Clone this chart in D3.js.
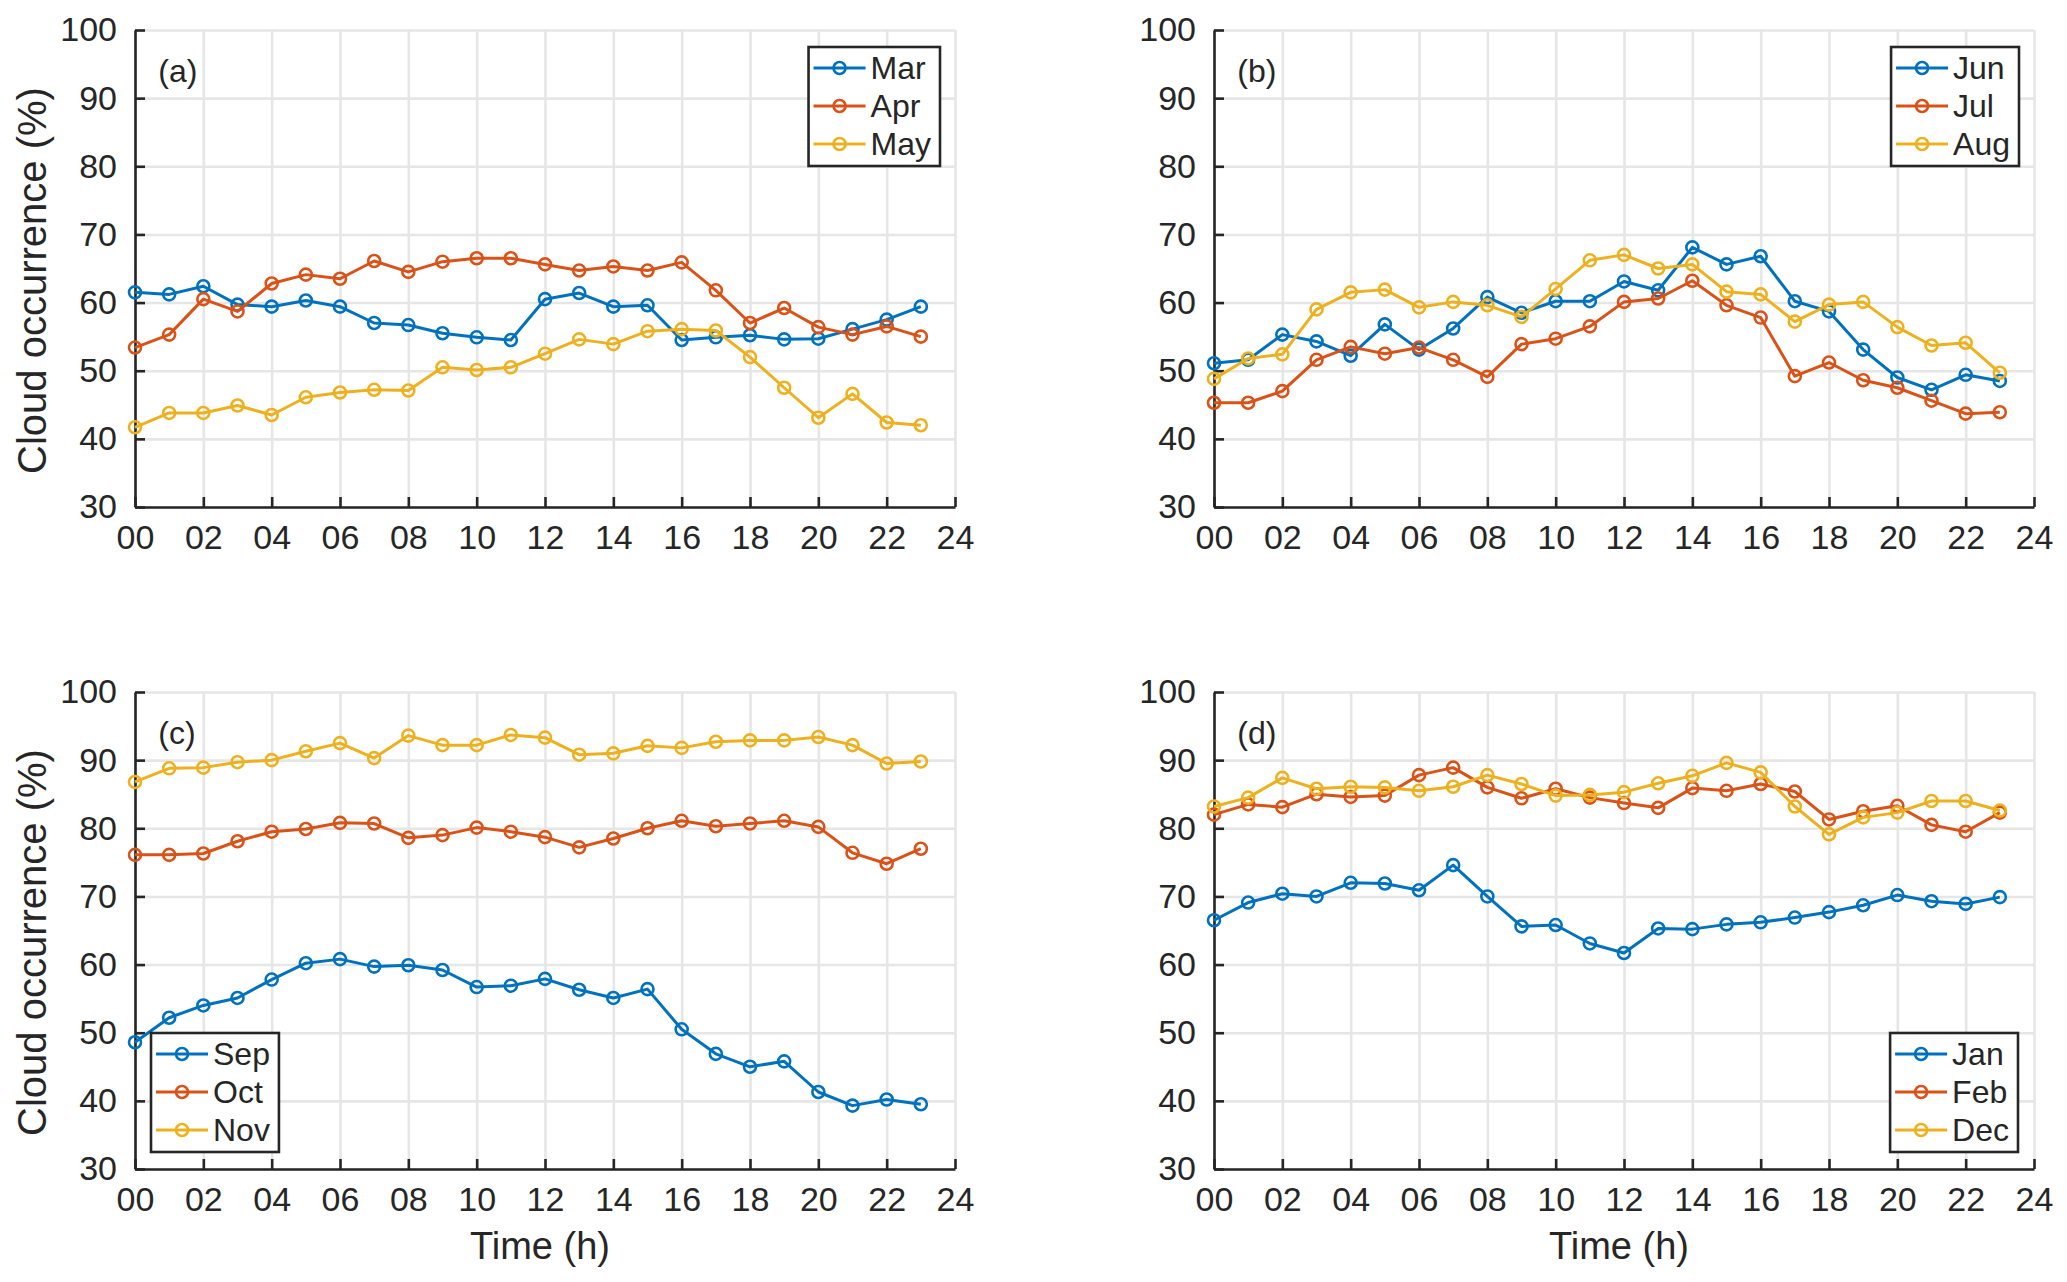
<!DOCTYPE html>
<html>
<head>
<meta charset="utf-8">
<script src="https://cdn.jsdelivr.net/npm/d3@7"></script>
<style>
  body { margin: 0; background: #fff; }
  svg { display: block; }
  text { font-family: "Liberation Sans", Arial, Helvetica, sans-serif; fill: #262626; }
</style>
</head>
<body>
<div id="chart"></div>
<script>
// hours of day (local time)
var hours = [0, 1, 2, 3, 4, 5, 6, 7, 8, 9, 10, 11, 12, 13, 14, 15, 16, 17, 18, 19, 20, 21, 22, 23];
var xTicks = [0, 2, 4, 6, 8, 10, 12, 14, 16, 18, 20, 22, 24];
var yTicks = [30, 40, 50, 60, 70, 80, 90, 100];

// cloud occurrence (%) per hour
var mar = [61.5, 61.2, 62.4, 59.7, 59.4, 60.3, 59.4, 57.0, 56.7, 55.5, 54.9, 54.5, 60.5, 61.4, 59.4, 59.6, 54.5, 54.9, 55.2, 54.6, 54.7, 56.1, 57.5, 59.4];
var apr = [53.4, 55.3, 60.5, 58.7, 62.8, 64.1, 63.5, 66.1, 64.5, 66.0, 66.5, 66.5, 65.6, 64.7, 65.3, 64.7, 65.9, 61.8, 57.0, 59.2, 56.4, 55.3, 56.5, 55.0];
var may = [41.7, 43.8, 43.8, 44.9, 43.5, 46.1, 46.8, 47.2, 47.1, 50.5, 50.1, 50.5, 52.5, 54.6, 53.9, 55.8, 56.1, 55.9, 52.0, 47.5, 43.1, 46.6, 42.4, 42.0];

var jun = [51.1, 51.6, 55.3, 54.3, 52.2, 56.8, 53.1, 56.2, 60.8, 58.5, 60.2, 60.2, 63.1, 61.8, 68.1, 65.6, 66.8, 60.2, 58.7, 53.1, 49.0, 47.2, 49.4, 48.5];
var jul = [45.3, 45.3, 47.0, 51.6, 53.5, 52.5, 53.4, 51.6, 49.1, 53.9, 54.7, 56.5, 60.1, 60.6, 63.2, 59.6, 57.8, 49.2, 51.2, 48.6, 47.5, 45.6, 43.7, 43.9];
var aug = [48.8, 51.8, 52.4, 59.0, 61.5, 61.9, 59.3, 60.1, 59.6, 57.9, 62.0, 66.2, 67.0, 65.0, 65.6, 61.6, 61.2, 57.2, 59.7, 60.1, 56.4, 53.7, 54.1, 49.7];

var sep = [48.6, 52.2, 54.0, 55.1, 57.8, 60.2, 60.8, 59.7, 59.9, 59.2, 56.7, 56.9, 57.9, 56.3, 55.1, 56.4, 50.5, 46.9, 45.0, 45.8, 41.3, 39.3, 40.2, 39.5];
var oct = [76.1, 76.1, 76.3, 78.1, 79.5, 79.9, 80.8, 80.7, 78.6, 79.0, 80.1, 79.5, 78.7, 77.2, 78.5, 80.0, 81.1, 80.3, 80.7, 81.1, 80.2, 76.4, 74.8, 77.0];
var nov = [86.8, 88.8, 88.9, 89.7, 90.0, 91.3, 92.5, 90.3, 93.6, 92.2, 92.2, 93.7, 93.3, 90.8, 91.0, 92.1, 91.8, 92.7, 92.9, 92.9, 93.4, 92.2, 89.5, 89.8];

var jan = [66.5, 69.1, 70.4, 70.0, 72.0, 71.9, 70.9, 74.6, 70.0, 65.6, 65.8, 63.1, 61.7, 65.3, 65.2, 65.9, 66.2, 66.9, 67.7, 68.7, 70.2, 69.3, 68.9, 69.9];
var feb = [82.0, 83.5, 83.1, 85.0, 84.6, 84.8, 87.8, 88.9, 86.0, 84.4, 85.8, 84.5, 83.7, 83.0, 85.9, 85.5, 86.5, 85.4, 81.3, 82.5, 83.3, 80.5, 79.5, 82.3];
var dec = [83.2, 84.5, 87.4, 85.8, 86.1, 86.0, 85.5, 86.1, 87.8, 86.5, 84.8, 84.9, 85.3, 86.6, 87.7, 89.6, 88.2, 83.2, 79.1, 81.6, 82.3, 84.0, 84.0, 82.6];

var colors = ["#0072BD", "#D95319", "#EDB120"];

var panels = [
  { tag: "(a)", names: ["Mar", "Apr", "May"], series: [mar, apr, may], left: 135, top: 30, legend: "ne", ylab: true, xlab: false },
  { tag: "(b)", names: ["Jun", "Jul", "Aug"], series: [jun, jul, aug], left: 1214, top: 30, legend: "ne", ylab: false, xlab: false },
  { tag: "(c)", names: ["Sep", "Oct", "Nov"], series: [sep, oct, nov], left: 135, top: 692, legend: "sw", ylab: true, xlab: true },
  { tag: "(d)", names: ["Jan", "Feb", "Dec"], series: [jan, feb, dec], left: 1214, top: 692, legend: "se", ylab: false, xlab: true }
];

var W = 2067, H = 1282;
var pw = 820, ph = 477;

var svg = d3.select("#chart").append("svg")
    .attr("width", W)
    .attr("height", H);

panels.forEach(function(p) {
  var x = d3.scaleLinear().domain([0, 24]).range([0, pw]);
  var y = d3.scaleLinear().domain([30, 100]).range([ph, 0]);

  var g = svg.append("g").attr("transform", "translate(" + p.left + "," + p.top + ")");

  // grid
  var gx = g.append("g").attr("transform", "translate(0," + ph + ")")
      .call(d3.axisBottom(x).tickValues(xTicks).tickSize(-ph).tickFormat(""));
  var gy = g.append("g")
      .call(d3.axisLeft(y).tickValues(yTicks).tickSize(-pw).tickFormat(""));
  [gx, gy].forEach(function(s) {
    s.select(".domain").remove();
    s.selectAll("line").attr("stroke", "#e6e6e6").attr("stroke-width", 2.6);
  });

  // axes (ticks point inward)
  var ax = g.append("g").attr("transform", "translate(0," + ph + ")")
      .call(d3.axisBottom(x).tickValues(xTicks).tickSize(-10).tickSizeOuter(0).tickPadding(18).tickFormat(d3.format("02d")));
  var ay = g.append("g")
      .call(d3.axisLeft(y).tickValues(yTicks).tickSize(-10).tickSizeOuter(0).tickPadding(18));
  [ax, ay].forEach(function(s) {
    s.select(".domain").attr("stroke", "#262626").attr("stroke-width", 2.6);
    s.selectAll("line").attr("stroke", "#262626").attr("stroke-width", 2.6);
    s.selectAll("text").attr("font-size", 34).attr("fill", "#262626")
      .style("font-family", "'Liberation Sans', Arial, sans-serif");
  });

  // data
  var line = d3.line().x(function(d, i) { return x(hours[i]); }).y(function(d) { return y(d); });
  p.series.forEach(function(vals, k) {
    g.append("path").datum(vals)
      .attr("d", line)
      .attr("fill", "none")
      .attr("stroke", colors[k])
      .attr("stroke-width", 3)
      .attr("stroke-linejoin", "round");
    g.selectAll(null).data(vals).enter().append("circle")
      .attr("cx", function(d, i) { return x(hours[i]); })
      .attr("cy", function(d) { return y(d); })
      .attr("r", 6)
      .attr("fill", "none")
      .attr("stroke", colors[k])
      .attr("stroke-width", 2.6);
  });

  // panel tag
  g.append("text").attr("x", x(0.68)).attr("y", 52)
    .attr("font-size", 32).text(p.tag);

  // legend
  var lg = g.append("g");
  var texts = p.names.map(function(n, k) {
    return lg.append("text").attr("x", 62).attr("y", 21 + k * 38).attr("dy", "0.35em")
      .attr("font-size", 32).attr("fill", "#000").text(n);
  });
  var maxW = d3.max(texts, function(t) { return t.node().getComputedTextLength(); });
  var bw = 71 + maxW, bh = 119;
  lg.insert("rect", "text").attr("width", bw).attr("height", bh)
    .attr("fill", "#fff").attr("stroke", "#262626").attr("stroke-width", 2.6);
  p.names.forEach(function(n, k) {
    var ry = 21 + k * 38;
    lg.append("line").attr("x1", 5).attr("x2", 57).attr("y1", ry).attr("y2", ry)
      .attr("stroke", colors[k]).attr("stroke-width", 3);
    lg.append("circle").attr("cx", 31).attr("cy", ry).attr("r", 6)
      .attr("fill", "none").attr("stroke", colors[k]).attr("stroke-width", 2.6);
  });
  var lx, ly;
  if (p.legend === "ne") { lx = pw - 15 - bw; ly = 17; }
  else if (p.legend === "sw") { lx = 16; ly = ph - 17 - bh; }
  else { lx = pw - 16 - bw; ly = ph - 17 - bh; }
  lg.attr("transform", "translate(" + lx + "," + ly + ")");

  // axis labels
  if (p.ylab) {
    svg.append("text")
      .attr("transform", "translate(46," + (p.top + ph / 2 + 12) + ") rotate(-90)")
      .attr("text-anchor", "middle")
      .attr("font-size", 40)
      .text("Cloud occurrence (%)");
  }
  if (p.xlab) {
    svg.append("text")
      .attr("x", p.left + pw / 2 - 5)
      .attr("y", p.top + ph + 90)
      .attr("text-anchor", "middle")
      .attr("font-size", 38)
      .text("Time (h)");
  }
});
</script>
</body>
</html>
